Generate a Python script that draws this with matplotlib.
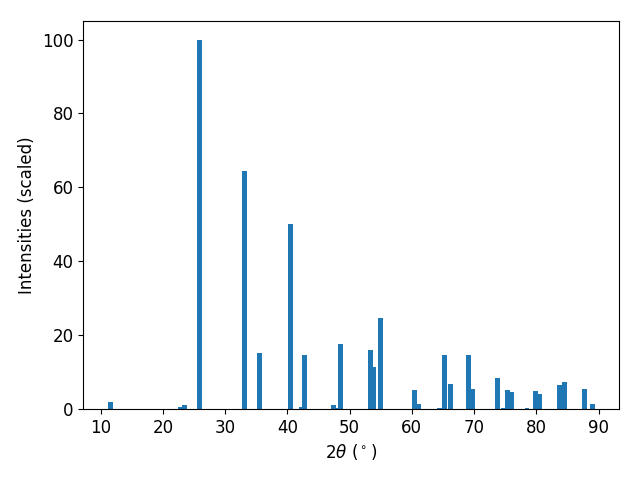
import matplotlib
matplotlib.use("Agg")
import matplotlib.pyplot as plt

# peak positions (2theta, degrees) and scaled intensities
two_theta = [11.5, 22.9, 23.4, 25.8, 33.05, 35.45, 40.45, 42.2, 42.7,
             47.35, 47.9, 48.6, 53.3, 53.9, 54.9, 60.35, 61.1, 64.4,
             65.2, 66.15, 69.05, 69.7, 73.7, 74.8, 75.3, 75.95, 78.5,
             79.8, 80.5, 83.65, 84.6, 87.7, 88.95]
intensity = [1.9, 0.5, 1.1, 100.0, 64.5, 15.2, 50.0, 0.6, 14.7,
             1.1, 0.3, 17.5, 16.0, 11.4, 24.6, 5.0, 1.4, 0.3,
             14.6, 6.8, 14.6, 5.4, 8.4, 0.3, 5.1, 4.6, 0.3,
             4.9, 4.1, 6.5, 7.3, 5.4, 1.4]

fig, ax = plt.subplots(figsize=(6.4, 4.8), dpi=100)
ax.bar(two_theta, intensity, width=0.8, color="tab:blue")
ax.set_xlabel(r"$2\theta$ ($^\circ$)", fontsize=12)
ax.set_ylabel("Intensities (scaled)", fontsize=12)
ax.tick_params(labelsize=12)
fig.subplots_adjust(left=0.13, right=0.967, top=0.956, bottom=0.148)
fig.savefig("out.png")
